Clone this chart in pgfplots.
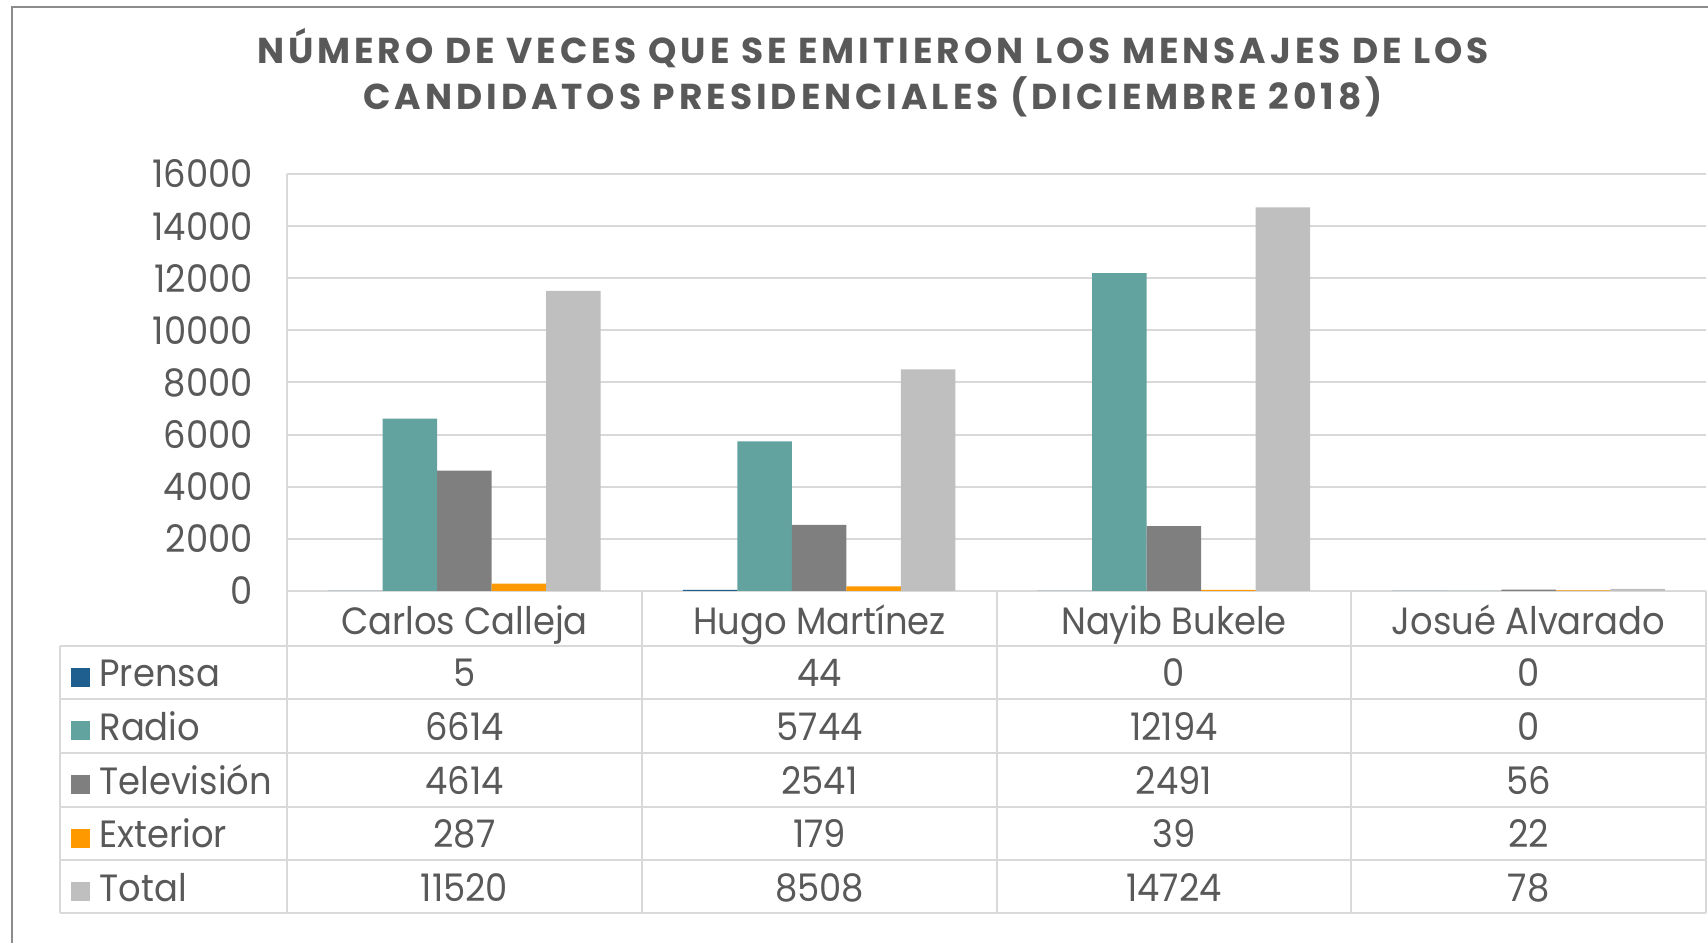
\documentclass[border=0pt]{standalone}
\usepackage{pgfplots}
\pgfplotsset{compat=1.18}
\usepackage{pgfplotstable}
\usepackage{fontspec}
\setmainfont[FakeStretch=0.93]{Poppins}
\newfontfamily\titlefont[LetterSpace=11]{Poppins}
\definecolor{txt}{HTML}{595959}
\definecolor{gridc}{HTML}{D9D9D9}
\definecolor{frame}{HTML}{8C8C8C}
\definecolor{cPrensa}{HTML}{1F5F8F}
\definecolor{cRadio}{HTML}{62A39F}
\definecolor{cTV}{HTML}{7F7F7F}
\definecolor{cExt}{HTML}{FF9900}
\definecolor{cTot}{HTML}{BFBFBF}
\pgfplotstableread{
x prensa radio tv ext total
0 5 6614 4614 287 11520
1 44 5744 2541 179 8508
2 0 12194 2491 39 14724
3 0 0 56 22 78
}\datatab
\begin{document}
\begin{tikzpicture}[x=1pt,y=1pt]
\path[use as bounding box] (0,0) rectangle (1708,943);
% outer frame
\draw[frame, line width=2pt] (12,0) -- (12,936) -- (1708,936);
% title
\node[anchor=base, txt, font=\titlefont\bfseries\fontsize{36}{40}\selectfont] at (873,879) {NÚMERO DE VECES QUE SE EMITIERON LOS MENSAJES DE LOS};
\node[anchor=base, txt, font=\titlefont\bfseries\fontsize{36}{40}\selectfont] at (873,833) {CANDIDATOS PRESIDENCIALES (DICIEMBRE 2018)};
\begin{axis}[
  at={(287pt,352pt)}, anchor=south west,
  scale only axis, width=1419pt, height=417pt,
  xmin=-0.5, xmax=3.5, ymin=0, ymax=16000,
  ybar=0pt, bar width=54.5pt,
  axis line style={draw=none},
  xtick=\empty,
  ytick={0,2000,...,16000},
  major tick length=0pt,
  ymajorgrids, grid style={gridc, line width=2pt},
  scaled y ticks=false,
  /pgf/number format/assume math mode=true,
  /pgf/number format/.cd, fixed, 1000 sep={}, /pgfplots/.cd,
  yticklabel style={anchor=east, inner sep=0pt, xshift=-34pt, txt, font=\fontsize{38}{40}\selectfont},
  clip=false,
]
\addplot[fill=cPrensa, draw=none] table[x=x, y=prensa]{\datatab};
\addplot[fill=cRadio, draw=none] table[x=x, y=radio]{\datatab};
\addplot[fill=cTV, draw=none] table[x=x, y=tv]{\datatab};
\addplot[fill=cExt, draw=none] table[x=x, y=ext]{\datatab};
\addplot[fill=cTot, draw=none] table[x=x, y=total]{\datatab};
\end{axis}
% table grid
\begin{scope}[gridc, line width=2pt]
\draw (287,352) -- (287,30);
\foreach \xx in {642,997,1351,1706} \draw (\xx,352) -- (\xx,30);
\draw (60,297) -- (60,30);
\foreach \yy in {297,243.5,190,136.5,83,30} \draw (60,\yy) -- (1706,\yy);
\draw (287,352) -- (287,769);
\end{scope}
% category names
\begin{scope}[every node/.style={anchor=base, txt, font=\fontsize{38}{40}\selectfont}]
\node at (464.5,308) {Carlos Calleja};
\node at (819.5,308) {Hugo Martínez};
\node at (1174,308) {Nayib Bukele};
\node at (1528.5,308) {Josué Alvarado};
% rows
\foreach \lab/\col/\yb/\a/\b/\c/\d in {
  Prensa/cPrensa/256/5/44/0/0,
  Radio/cRadio/202.5/6614/5744/12194/0,
  Televisión/cTV/149/4614/2541/2491/56,
  Exterior/cExt/95.5/287/179/39/22,
  Total/cTot/42/11520/8508/14724/78}{
  \fill[\col] (71,\yb) rectangle (90,\yb+19);
  \node[anchor=base west] at (96,\yb) {\lab};
  \node at (464.5,\yb) {\a};
  \node at (819.5,\yb) {\b};
  \node at (1174,\yb) {\c};
  \node at (1528.5,\yb) {\d};
}
\end{scope}
\end{tikzpicture}
\end{document}
